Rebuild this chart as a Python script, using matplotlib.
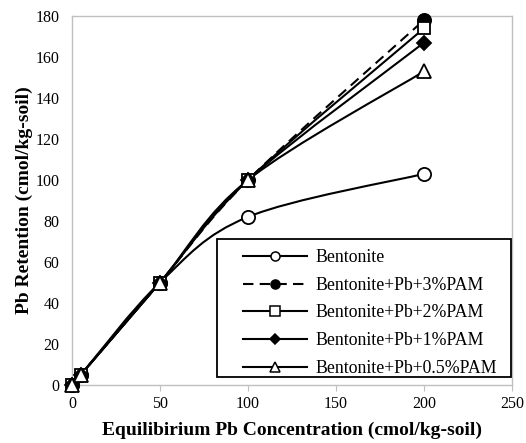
import matplotlib
matplotlib.use("Agg")
import matplotlib.pyplot as plt
from matplotlib.path import Path
from matplotlib.patches import PathPatch, Rectangle
from matplotlib.lines import Line2D
from matplotlib.legend_handler import HandlerLine2D
import numpy as np

plt.rcParams['font.family'] = ['Liberation Serif', 'DejaVu Serif']

x_vals = [0, 5, 50, 100, 200]
series_names = ["Bentonite", "Bentonite+Pb+3%PAM", "Bentonite+Pb+2%PAM",
                "Bentonite+Pb+1%PAM", "Bentonite+Pb+0.5%PAM"]
bentonite = [0, 5, 50, 82, 103]
pam3 = [0, 5, 50, 100, 178]
pam2 = [0, 5, 50, 100, 174]
pam1 = [0, 5, 50, 100, 167]
pam05 = [0, 5, 50, 100, 153]
x_ticks = [0, 50, 100, 150, 200, 250]
y_ticks = [0, 20, 40, 60, 80, 100, 120, 140, 160, 180]

styles = [
    dict(marker='o', mfc='white', ls='-', ms=9.5, lms=6.5),
    dict(marker='o', mfc='black', ls=(0, (5, 3)), ms=9.5, lms=6.5),
    dict(marker='s', mfc='white', ls='-', ms=9, lms=6.5),
    dict(marker='D', mfc='black', ls='-', ms=7, lms=5),
    dict(marker='^', mfc='white', ls='-', ms=10, lms=6.5),
]

fig = plt.figure(figsize=(5.26, 4.43), dpi=100)
ax = fig.add_axes([72 / 526, 1 - 385 / 443, (512 - 72) / 526, (385 - 16) / 443])


def smooth_path(xs, ys):
    # Excel-like smoothed line: cubic Bezier segments through the data points
    pts = np.column_stack([xs, ys]).astype(float)
    n = len(pts)
    verts = [pts[0]]
    codes = [Path.MOVETO]
    for i in range(n - 1):
        p0 = pts[i - 1] if i > 0 else pts[i]
        p1 = pts[i]
        p2 = pts[i + 1]
        p3 = pts[i + 2] if i + 2 < n else pts[i + 1]
        c1 = p1 + (p2 - p0) / 6.0
        c2 = p2 - (p3 - p1) / 6.0
        verts += [c1, c2, p2]
        codes += [Path.CURVE4] * 3
    return Path(verts, codes)


all_series = [bentonite, pam3, pam2, pam1, pam05]
handles = []
for name, ys, st in zip(series_names, all_series, styles):
    patch = PathPatch(smooth_path(x_vals, ys), facecolor='none', edgecolor='black',
                      lw=1.5, linestyle=st['ls'], transform=ax.transData, zorder=2)
    ax.add_patch(patch)
    ax.plot(x_vals, ys, linestyle='none', marker=st['marker'], mfc=st['mfc'],
            mec='black', mew=1.3, ms=st['ms'], clip_on=False, zorder=3)
    handles.append(Line2D([], [], color='black', lw=1.5, linestyle=st['ls'],
                          marker=st['marker'], mfc=st['mfc'], mec='black',
                          mew=1.1, ms=st['lms']))

ax.set_xlim(0, 250)
ax.set_ylim(0, 180)
ax.set_xticks(x_ticks)
ax.set_yticks(y_ticks)
for s in ax.spines.values():
    s.set_color('#bfbfbf')
    s.set_linewidth(1.0)
ax.tick_params(axis='x', colors='#bfbfbf', labelcolor='black', length=4,
               direction='out', labelsize=11.5, pad=4)
ax.tick_params(axis='y', length=0, labelcolor='black', labelsize=11.5, pad=9)

ax.set_xlabel("Equilibirium Pb Concentration (cmol/kg-soil)", fontsize=14,
              fontweight='bold', labelpad=7)
ax.set_ylabel("Pb Retention (cmol/kg-soil)", fontsize=14, fontweight='bold',
              labelpad=2)

# legend box (frame drawn separately so padding can differ per side)
ax.add_patch(Rectangle((0.3295, 0.0217), 0.6685, 0.374, transform=ax.transAxes,
                       facecolor='white', edgecolor='black', lw=1.3, zorder=4,
                       clip_on=False))
hmap = {h: HandlerLine2D(xpad=1.0) for h in handles}
leg = ax.legend(handles, series_names, loc='lower right', fontsize=12.8,
                handlelength=4.6, handletextpad=0.45, borderpad=0.4,
                labelspacing=0.6, frameon=False,
                borderaxespad=0, bbox_to_anchor=(0.9818, 0.003),
                handler_map=hmap)
leg.set_zorder(5)

fig.savefig("out.png", dpi=100)
